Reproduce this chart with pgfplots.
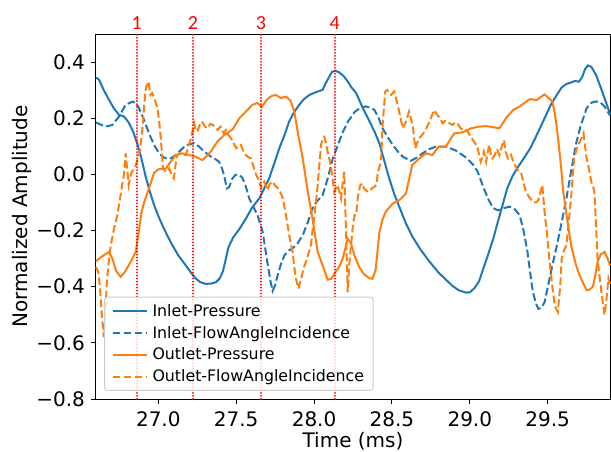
\documentclass[border=0pt]{standalone}
\usepackage{pgfplots}
\pgfplotsset{compat=1.18}
\usepackage{pgfplotstable}
\usepackage{fontspec}
\setmainfont{DejaVu Sans}
\newfontfamily\numfont{Carlito}
\definecolor{tabblue}{HTML}{1F77B4}
\definecolor{taborange}{HTML}{FF7F0E}
\definecolor{mplred}{HTML}{FF0000}

\pgfplotstableread{
x y
26.60 0.345
26.62 0.337
26.65 0.30
26.684 0.265
26.715 0.235
26.748 0.212
26.78 0.206
26.81 0.185
26.84 0.15
26.866 0.108
26.89 0.06
26.92 -0.01
26.945 -0.06
26.973 -0.109
27.0 -0.148
27.026 -0.181
27.06 -0.22
27.09 -0.252
27.13 -0.29
27.176 -0.324
27.21 -0.35
27.24 -0.371
27.27 -0.384
27.305 -0.39
27.34 -0.389
27.37 -0.384
27.395 -0.37
27.415 -0.345
27.43 -0.31
27.45 -0.26
27.48 -0.225
27.52 -0.195
27.56 -0.16
27.60 -0.12
27.648 -0.086
27.68 -0.05
27.712 -0.014
27.745 0.04
27.777 0.093
27.81 0.14
27.84 0.188
27.87 0.22
27.905 0.248
27.935 0.268
27.97 0.283
28.0 0.29
28.023 0.295
28.055 0.301
28.075 0.325
28.095 0.345
28.115 0.365
28.135 0.369
28.16 0.364
28.19 0.35
28.216 0.331
28.24 0.31
28.27 0.29
28.31 0.24
28.355 0.19
28.39 0.15
28.42 0.11
28.45 0.05
28.48 -0.01
28.515 -0.07
28.547 -0.115
28.59 -0.175
28.63 -0.22
28.68 -0.265
28.74 -0.31
28.80 -0.35
28.847 -0.375
28.89 -0.398
28.93 -0.413
28.976 -0.421
29.0 -0.42
29.03 -0.405
29.06 -0.38
29.09 -0.33
29.115 -0.29
29.15 -0.23
29.18 -0.169
29.21 -0.11
29.24 -0.05
29.275 -0.005
29.31 0.027
29.35 0.06
29.39 0.095
29.425 0.135
29.46 0.176
29.49 0.212
29.52 0.248
29.555 0.28
29.59 0.31
29.62 0.322
29.65 0.327
29.675 0.333
29.70 0.33
29.72 0.345
29.74 0.375
29.758 0.388
29.78 0.383
29.81 0.355
29.84 0.31
29.865 0.271
29.885 0.24
29.90 0.215
}\inletp

\pgfplotstableread{
x y
26.60 0.185
26.62 0.18
26.66 0.17
26.705 0.176
26.748 0.206
26.79 0.248
26.834 0.259
26.855 0.255
26.876 0.236
26.90 0.205
26.92 0.176
26.945 0.14
26.973 0.105
27.0 0.08
27.026 0.063
27.05 0.057
27.08 0.057
27.11 0.068
27.134 0.081
27.16 0.095
27.187 0.105
27.23 0.111
27.26 0.1
27.283 0.087
27.31 0.075
27.337 0.063
27.365 0.055
27.39 0.045
27.41 0.02
27.425 -0.01
27.44 -0.05
27.455 -0.045
27.475 -0.015
27.495 -0.002
27.515 0.0
27.54 -0.012
27.56 -0.04
27.584 -0.086
27.61 -0.115
27.637 -0.145
27.67 -0.205
27.70 -0.312
27.72 -0.38
27.734 -0.415
27.75 -0.395
27.766 -0.36
27.79 -0.315
27.81 -0.288
27.84 -0.27
27.862 -0.264
27.895 -0.245
27.927 -0.217
27.96 -0.17
27.99 -0.121
28.02 -0.095
28.055 -0.074
28.09 -0.01
28.12 0.057
28.15 0.1
28.184 0.15
28.22 0.19
28.26 0.222
28.30 0.238
28.33 0.242
28.36 0.238
28.387 0.23
28.415 0.2
28.44 0.164
28.47 0.135
28.505 0.105
28.54 0.08
28.57 0.063
28.62 0.048
28.66 0.06
28.697 0.075
28.74 0.09
28.783 0.099
28.847 0.099
28.91 0.085
28.976 0.06
29.02 0.035
29.05 0.01
29.07 -0.02
29.09 -0.05
29.12 -0.09
29.15 -0.12
29.18 -0.128
29.22 -0.12
29.255 -0.115
29.29 -0.125
29.32 -0.145
29.345 -0.2
29.37 -0.276
29.39 -0.36
29.405 -0.419
29.425 -0.46
29.44 -0.479
29.46 -0.475
29.48 -0.455
29.505 -0.39
29.53 -0.324
29.56 -0.25
29.59 -0.17
29.62 -0.086
29.65 0.01
29.68 0.105
29.71 0.17
29.75 0.236
29.78 0.255
29.81 0.26
29.84 0.255
29.865 0.242
29.90 0.21
}\inletf

\pgfplotstableread{
x y
26.60 -0.31
26.62 -0.3
26.65 -0.288
26.684 -0.276
26.705 -0.3
26.73 -0.345
26.758 -0.365
26.785 -0.348
26.81 -0.324
26.834 -0.3
26.855 -0.276
26.876 -0.2
26.89 -0.14
26.91 -0.098
26.94 -0.05
26.973 0.005
27.0 0.018
27.048 0.021
27.08 0.045
27.112 0.069
27.155 0.075
27.198 0.069
27.24 0.063
27.283 0.051
27.31 0.065
27.337 0.081
27.38 0.117
27.423 0.14
27.45 0.15
27.477 0.16
27.52 0.2
27.563 0.224
27.605 0.248
27.637 0.254
27.665 0.24
27.70 0.268
27.73 0.28
27.755 0.283
27.787 0.272
27.82 0.277
27.85 0.262
27.873 0.224
27.895 0.152
27.927 0.057
27.96 -0.062
27.99 -0.157
28.023 -0.276
28.055 -0.324
28.087 -0.375
28.11 -0.372
28.135 -0.35
28.16 -0.33
28.184 -0.3
28.216 -0.229
28.237 -0.245
28.26 -0.29
28.29 -0.33
28.32 -0.355
28.355 -0.37
28.375 -0.372
28.395 -0.34
28.42 -0.205
28.44 -0.16
28.46 -0.133
28.505 -0.104
28.547 -0.092
28.59 -0.068
28.63 0.033
28.676 0.057
28.72 0.075
28.76 0.069
28.80 0.099
28.847 0.099
28.875 0.125
28.9 0.146
28.955 0.15
29.008 0.164
29.06 0.17
29.105 0.172
29.15 0.168
29.19 0.164
29.24 0.206
29.28 0.23
29.32 0.242
29.385 0.268
29.43 0.265
29.48 0.285
29.53 0.26
29.545 0.22
29.56 0.16
29.58 0.06
29.60 -0.062
29.625 -0.16
29.65 -0.252
29.68 -0.32
29.705 -0.36
29.73 -0.39
29.75 -0.413
29.77 -0.41
29.79 -0.4
29.805 -0.36
29.82 -0.312
29.84 -0.285
29.865 -0.276
29.885 -0.3
29.90 -0.324
}\outletp

\pgfplotstableread{
x y
26.60 -0.33
26.615 -0.348
26.625 -0.40
26.64 -0.52
26.65 -0.58
26.66 -0.5
26.67 -0.38
26.684 -0.30
26.695 -0.252
26.716 -0.193
26.737 -0.145
26.758 -0.074
26.77 -0.03
26.78 0.0
26.79 0.075
26.80 0.021
26.81 -0.038
26.82 -0.01
26.83 0.009
26.845 0.02
26.855 0.033
26.865 0.05
26.88 0.081
26.89 0.12
26.90 0.176
26.91 0.25
26.92 0.307
26.937 0.331
26.95 0.283
26.96 0.29
26.97 0.277
26.98 0.26
26.995 0.236
27.005 0.19
27.016 0.129
27.025 0.06
27.03 0.021
27.05 0.009
27.07 0.021
27.085 0.0
27.10 -0.014
27.11 0.03
27.12 0.069
27.14 0.075
27.16 0.07
27.176 0.069
27.195 0.1
27.21 0.129
27.23 0.182
27.24 0.16
27.25 0.152
27.265 0.175
27.28 0.188
27.30 0.17
27.315 0.164
27.335 0.18
27.35 0.176
27.365 0.17
27.38 0.158
27.40 0.17
27.42 0.146
27.434 0.158
27.45 0.14
27.466 0.129
27.485 0.11
27.5 0.093
27.515 0.1
27.53 0.105
27.545 0.085
27.56 0.069
27.577 0.062
27.594 0.057
27.61 0.03
27.627 0.0
27.645 -0.02
27.66 -0.048
27.67 -0.035
27.68 -0.026
27.69 -0.04
27.70 -0.056
27.715 -0.035
27.734 -0.026
27.75 -0.04
27.766 -0.048
27.785 -0.065
27.80 -0.086
27.815 -0.13
27.83 -0.181
27.845 -0.23
27.862 -0.276
27.873 -0.33
27.883 -0.371
27.9 -0.407
27.912 -0.38
27.922 -0.36
27.935 -0.33
27.948 -0.312
27.965 -0.28
27.98 -0.252
27.99 -0.2
28.0 -0.157
28.012 -0.1
28.023 -0.038
28.035 0.04
28.045 0.105
28.056 0.13
28.066 0.134
28.077 0.11
28.087 0.081
28.10 0.05
28.11 0.021
28.12 -0.02
28.13 -0.062
28.14 -0.05
28.15 -0.038
28.162 -0.06
28.173 -0.086
28.184 -0.03
28.194 0.009
28.205 -0.2
28.216 -0.42
28.226 -0.32
28.237 -0.252
28.25 -0.18
28.26 -0.145
28.27 -0.145
28.28 -0.086
28.295 -0.04
28.31 -0.032
28.32 -0.05
28.34 -0.06
28.355 -0.062
28.37 -0.05
28.385 -0.045
28.40 -0.038
28.41 0.009
28.43 0.045
28.44 0.176
28.457 0.295
28.47 0.301
28.48 0.29
28.494 0.283
28.515 0.295
28.537 0.248
28.555 0.2
28.57 0.164
28.59 0.188
28.61 0.224
28.633 0.176
28.65 0.093
28.66 0.11
28.676 0.129
28.7 0.145
28.72 0.164
28.735 0.18
28.75 0.2
28.77 0.229
28.79 0.212
28.81 0.2
28.825 0.182
28.84 0.19
28.858 0.188
28.875 0.18
28.89 0.176
28.905 0.185
28.92 0.182
28.94 0.165
28.955 0.158
28.97 0.16
28.987 0.152
29.005 0.135
29.02 0.122
29.035 0.11
29.05 0.093
29.06 0.07
29.07 0.045
29.08 0.06
29.09 0.081
29.105 0.045
29.115 0.08
29.125 0.105
29.135 0.07
29.145 0.057
29.16 0.069
29.175 0.09
29.19 0.069
29.205 0.1
29.22 0.122
29.23 0.08
29.245 0.057
29.265 0.069
29.28 0.045
29.30 0.021
29.315 0.01
29.33 0.003
29.345 -0.03
29.36 -0.062
29.38 -0.08
29.405 -0.098
29.425 -0.1
29.44 -0.092
29.455 -0.06
29.465 -0.038
29.48 -0.133
29.495 -0.21
29.51 -0.3
29.53 -0.4
29.545 -0.467
29.565 -0.49
29.58 -0.4
29.59 -0.3
29.605 -0.27
29.62 -0.252
29.635 -0.17
29.65 -0.086
29.66 -0.01
29.67 0.057
29.685 0.09
29.695 0.105
29.71 0.12
29.73 0.146
29.74 0.1
29.75 0.057
29.765 0.02
29.78 -0.026
29.795 -0.05
29.80 -0.062
29.81 -0.18
29.82 -0.3
29.832 -0.36
29.845 -0.419
29.855 -0.46
29.865 -0.5
29.878 -0.44
29.89 -0.371
29.90 -0.39
}\outletf

\begin{document}
\begin{tikzpicture}
\begin{axis}[
  at={(0,0)}, anchor=south west,
  scale only axis,
  width=514bp, height=365bp,
  xmin=26.6, xmax=29.9,
  ymin=-0.8, ymax=0.5,
  clip=false,
  axis line style={black, line width=1.0bp},
  tick pos=left,
  tick align=outside,
  major tick length=5bp,
  tick style={black, line width=1.0bp},
  xtick={27.0,27.5,28.0,28.5,29.0,29.5},
  xticklabels={27.0,27.5,28.0,28.5,29.0,29.5},
  ytick={-0.8,-0.6,-0.4,-0.2,0.0,0.2,0.4},
  yticklabels={−0.8,−0.6,−0.4,−0.2,0.0,0.2,0.4},
  ticklabel style={font=\fontsize{20bp}{24bp}\selectfont},
  xticklabel style={yshift=-4.5bp},
  yticklabel style={xshift=-2.6bp},
  label style={font=\fontsize{20bp}{24bp}\selectfont},
  xlabel style={yshift=1.5bp},
  ylabel style={yshift=-2bp},
  xlabel={Time (ms)},
  ylabel={Normalized Amplitude},
  legend cell align=left,
  legend style={at={(0.0156,0.022)}, anchor=south west,
    font=\fontsize{15.8bp}{19bp}\selectfont,
    draw=black!20, line width=1bp, rounded corners=3bp, fill=white, fill opacity=0.8,
    text opacity=1, draw opacity=1, row sep=4.5bp, inner xsep=7bp, inner ysep=5bp,
    /tikz/every odd column/.append style={column sep=3bp}},
  legend image code/.code={\draw[#1] (0bp,0bp) -- (31bp,0bp); \path (0bp,0bp) -- (34bp,0bp);},
  every axis plot/.append style={line width=2bp},
]
\addplot[tabblue, solid] table {\inletp};
\addlegendentry{Inlet-Pressure}
\addplot[tabblue, dash pattern=on 7.7bp off 3.3bp] table {\inletf};
\addlegendentry{Inlet-FlowAngleIncidence}
\addplot[taborange, solid] table {\outletp};
\addlegendentry{Outlet-Pressure}
\addplot[taborange, dash pattern=on 7.7bp off 3.3bp] table {\outletf};
\addlegendentry{Outlet-FlowAngleIncidence}
\addplot[mplred, line width=2bp, line cap=round, dash pattern=on 0.01bp off 3bp, forget plot] coordinates {(26.862,-0.8) (26.862,0.5)};
\addplot[mplred, line width=2bp, line cap=round, dash pattern=on 0.01bp off 3bp, forget plot] coordinates {(27.222,-0.8) (27.222,0.5)};
\addplot[mplred, line width=2bp, line cap=round, dash pattern=on 0.01bp off 3bp, forget plot] coordinates {(27.659,-0.8) (27.659,0.5)};
\addplot[mplred, line width=2bp, line cap=round, dash pattern=on 0.01bp off 3bp, forget plot] coordinates {(28.132,-0.8) (28.132,0.5)};
\node[mplred, anchor=base, yshift=4.7bp, inner sep=0pt, font=\numfont\fontsize{20bp}{24bp}\selectfont] at (axis cs:26.862,0.5) {1};
\node[mplred, anchor=base, yshift=4.7bp, inner sep=0pt, font=\numfont\fontsize{20bp}{24bp}\selectfont] at (axis cs:27.222,0.5) {2};
\node[mplred, anchor=base, yshift=4.7bp, inner sep=0pt, font=\numfont\fontsize{20bp}{24bp}\selectfont] at (axis cs:27.659,0.5) {3};
\node[mplred, anchor=base, yshift=4.7bp, inner sep=0pt, font=\numfont\fontsize{20bp}{24bp}\selectfont] at (axis cs:28.132,0.5) {4};
\end{axis}
\pgfresetboundingbox
\useasboundingbox (-96bp,-53bp) rectangle (515bp,399bp);
\end{tikzpicture}
\end{document}
